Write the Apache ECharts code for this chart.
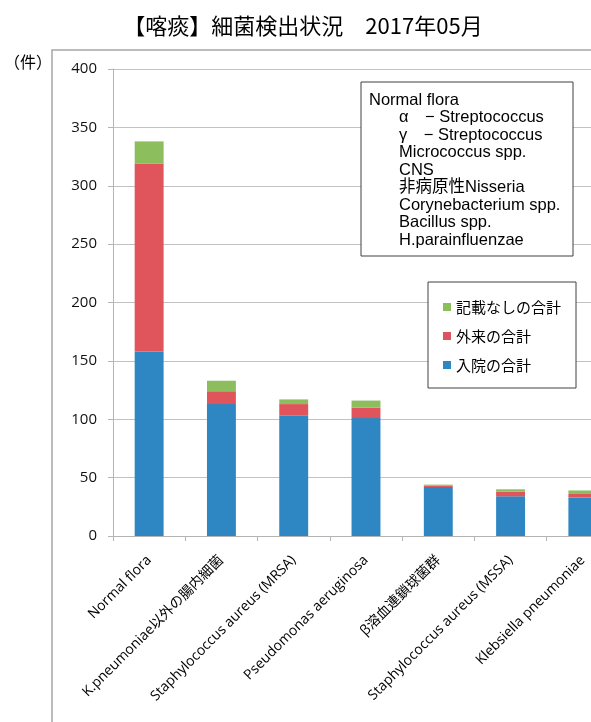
<!DOCTYPE html>
<html>
<head>
<meta charset="utf-8">
<title>喀痰 細菌検出状況</title>
<script src="https://cdn.jsdelivr.net/npm/echarts@6/dist/echarts.min.js"></script>
<style>
  html, body { margin: 0; padding: 0; background: #fff; }
  #chart { width: 591px; height: 722px; }
</style>
</head>
<body>
<div id="chart"></div>
<script>
// 喀痰 細菌検出状況 2017年05月
var categories = [
  'Normal flora',
  'K.pneumoniae以外の腸内細菌',
  'Staphylococcus aureus (MRSA)',
  'Pseudomonas aeruginosa',
  'β溶血連鎖球菌群',
  'Staphylococcus aureus (MSSA)',
  'Klebsiella pneumoniae'
]
var inpatient = [158, 113, 103, 101, 42, 34, 33]   // 入院の合計
var outpatient = [161, 11, 10, 9, 1, 4, 3]        // 外来の合計
var unknown = [19, 9, 4, 6, 1, 2, 3]              // 記載なしの合計

var seriesNames = ['入院の合計', '外来の合計', '記載なしの合計']
var noteLines = [
  'Normal flora',
  'α　− Streptococcus',
  'γ　− Streptococcus',
  'Micrococcus spp.',
  'CNS',
  '非病原性Nisseria',
  'Corynebacterium spp.',
  'Bacillus spp.',
  'H.parainfluenzae'
]

var latinFont = "'Liberation Sans', 'Noto Sans CJK JP', sans-serif"
var axisFont = "'Open Sans', 'Noto Sans CJK JP', sans-serif"

// 外枠・単位・注記ボックス
var graphics = [
  {
    type: 'rect',
    shape: { x: 52, y: 50, width: 600, height: 700 },
    style: { fill: null, stroke: '#a6a6a6', lineWidth: 1.5 },
    z: 1
  },
  {
    type: 'text',
    x: 4,
    y: 62,
    style: {
      text: '（件）',
      font: "16px 'Noto Sans CJK JP'",
      fill: '#000',
      textVerticalAlign: 'middle'
    }
  },
  {
    type: 'rect',
    shape: { x: 361, y: 82, width: 212, height: 174 },
    style: { fill: '#fff', stroke: '#404040', lineWidth: 1 },
    z: 100
  }
]
for (var i = 0; i < noteLines.length; i++) {
  graphics.push({
    type: 'text',
    x: i === 0 ? 369 : 399,
    y: 100 + i * 17.5,
    z: 101,
    style: {
      text: noteLines[i],
      font: '16.5px ' + latinFont,
      fill: '#000',
      textVerticalAlign: 'middle'
    }
  })
}

var chart = echarts.init(document.getElementById('chart'))
var option = {
  animation: false,
  title: {
    text: '【喀痰】細菌検出状況　2017年05月',
    left: 298,
    top: 10,
    textAlign: 'center',
    textStyle: {
      fontFamily: "'Noto Sans CJK JP', sans-serif",
      fontSize: 22,
      fontWeight: 'normal',
      color: '#000'
    }
  },
  legend: {
    orient: 'vertical',
    left: 428,
    top: 282,
    data: ['記載なしの合計', '外来の合計', '入院の合計'],
    icon: 'rect',
    itemWidth: 8,
    itemHeight: 8,
    itemGap: 9,
    padding: [15, 15, 13, 15],
    backgroundColor: '#fff',
    borderColor: '#404040',
    borderWidth: 1,
    textStyle: {
      fontFamily: "'Noto Sans CJK JP', sans-serif",
      fontSize: 15,
      lineHeight: 20,
      color: '#000'
    }
  },
  grid: {
    left: 113,
    top: 69,
    width: 506,
    height: 467,
    outerBoundsMode: 'none'
  },
  xAxis: {
    type: 'category',
    data: categories,
    axisLine: { lineStyle: { color: '#b4b4b4', width: 1 } },
    axisTick: { show: true, length: 5, lineStyle: { color: '#b4b4b4' } },
    axisLabel: {
      interval: 0,
      rotate: 45,
      margin: 22,
      fontFamily: axisFont,
      fontSize: 14,
      color: '#000'
    }
  },
  yAxis: {
    type: 'value',
    min: 0,
    max: 400,
    interval: 50,
    axisLine: { show: true, lineStyle: { color: '#b4b4b4', width: 1 } },
    axisTick: { show: true, length: 5, lineStyle: { color: '#b4b4b4' } },
    axisLabel: {
      margin: 16,
      fontFamily: axisFont,
      fontSize: 15,
      color: '#111'
    },
    splitLine: { lineStyle: { color: '#c2c2c2', width: 1 } }
  },
  series: [
    {
      name: seriesNames[0],
      type: 'bar',
      stack: 'total',
      barWidth: '40%',
      itemStyle: { color: '#2e87c2' },
      data: inpatient
    },
    {
      name: seriesNames[1],
      type: 'bar',
      stack: 'total',
      barWidth: '40%',
      itemStyle: { color: '#e0545b' },
      data: outpatient
    },
    {
      name: seriesNames[2],
      type: 'bar',
      stack: 'total',
      barWidth: '40%',
      itemStyle: { color: '#8dbe5d' },
      data: unknown
    }
  ],
  graphic: graphics
}
chart.setOption(option)
</script>
</body>
</html>
